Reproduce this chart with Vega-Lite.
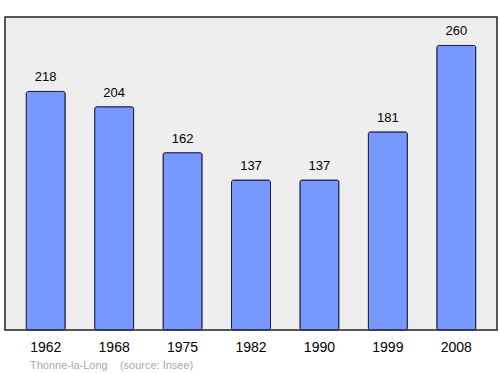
{
  "$schema": "https://vega.github.io/schema/vega-lite/v6.json",
  "width": 492,
  "height": 313,
  "autosize": {"type": "none"},
  "padding": {"left": 5, "top": 17, "right": 3, "bottom": 44},
  "background": "white",
  "data": {"values": [
    {"year": "1962", "pop": 218},
    {"year": "1968", "pop": 204},
    {"year": "1975", "pop": 162},
    {"year": "1982", "pop": 137},
    {"year": "1990", "pop": 137},
    {"year": "1999", "pop": 181},
    {"year": "2008", "pop": 260}
  ]},
  "config": {
    "font": "Liberation Sans",
    "view": {"fill": "#eeeeee", "stroke": "#222222", "strokeWidth": 1.5}
  },
  "title": {
    "text": "Thonne-la-Long\u00a0\u00a0\u00a0\u00a0(source: Insee)",
    "orient": "bottom",
    "anchor": "start",
    "dx": 25,
    "offset": 6,
    "fontSize": 11,
    "fontWeight": "normal",
    "color": "#aaaaaa",
    "font": "Liberation Sans"
  },
  "encoding": {
    "x": {
      "field": "year", "type": "nominal", "sort": null,
      "scale": {"paddingInner": 0.43, "paddingOuter": 0.31},
      "axis": {"title": null, "labelAngle": 0, "ticks": false, "domain": false, "labelPadding": 10, "labelFontSize": 14, "labelColor": "#000000"}
    },
    "y": {
      "field": "pop", "type": "quantitative",
      "scale": {"domain": [0, 286], "nice": false},
      "axis": null
    }
  },
  "layer": [
    {
      "mark": {"type": "bar", "color": "#7799ff", "stroke": "#1a1a40", "strokeWidth": 1, "cornerRadius": 2}
    },
    {
      "mark": {"type": "text", "dy": -7, "fontSize": 13, "color": "#000000", "baseline": "bottom"},
      "encoding": {"text": {"field": "pop", "type": "quantitative"}}
    }
  ]
}
